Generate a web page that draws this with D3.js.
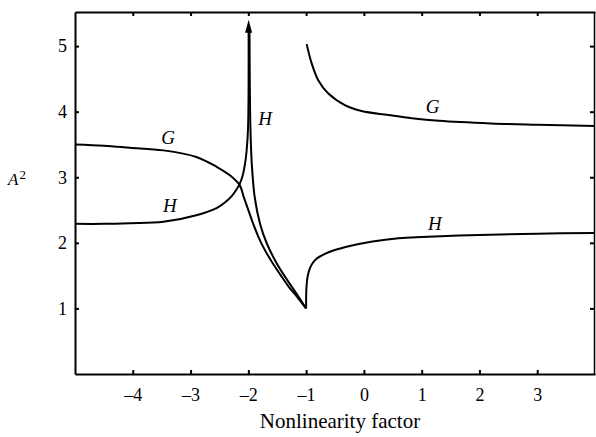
<!DOCTYPE html>
<html>
<head>
<meta charset="utf-8">
<script src="https://cdn.jsdelivr.net/npm/d3@7"></script>
<style>
  body { margin: 0; background: #fff; }
  svg text { font-family: "Liberation Serif", "DejaVu Serif", serif; fill: #000; }
</style>
</head>
<body>
<div id="vis"></div>
<script>
// G branch left of the singularity (runs down to the cusp at -1)
var gLeftX = [-5, -4.5, -4.05, -3.47, -2.9, -2.55, -2.32, -2.15, -2.08, -2.0, -1.92, -1.83, -1.72, -1.6, -1.45, -1.3, -1.15, -1.0];
var gLeftY = [3.5, 3.48, 3.45, 3.41, 3.31, 3.16, 3.03, 2.88, 2.7, 2.5, 2.3, 2.1, 1.9, 1.72, 1.52, 1.33, 1.17, 1.0];

// G branch right of -1
var gRightX = [-0.99, -0.905, -0.79, -0.62, -0.33, -0.04, 0.42, 0.83, 1.3, 2.2, 3, 4];
var gRightY = [5.03, 4.74, 4.48, 4.28, 4.1, 4.01, 3.95, 3.9, 3.86, 3.82, 3.8, 3.78];

// H rising into the peak at -2
var hLeftX = [-5, -4.5, -4.05, -3.47, -2.9, -2.55, -2.4, -2.28, -2.2, -2.15, -2.1, -2.06, -2.03, -2.005, -1.995];
var hLeftY = [2.29, 2.29, 2.3, 2.32, 2.42, 2.53, 2.62, 2.72, 2.82, 2.9, 3.02, 3.19, 3.4, 3.75, 5.3];

// H coming down from the peak to the cusp
var hMidX = [-1.98, -1.965, -1.94, -1.89, -1.8, -1.68, -1.51, -1.34, -1.17, -1.0];
var hMidY = [5.25, 3.8, 3.2, 2.7, 2.3, 1.99, 1.69, 1.45, 1.23, 1.0];

// H right of the cusp
var hRightX = [-1.0, -0.995, -0.975, -0.94, -0.88, -0.8, -0.6, -0.3, 0.15, 0.6, 1, 2, 3, 4];
var hRightY = [1.0, 1.3, 1.48, 1.6, 1.7, 1.77, 1.86, 1.94, 2.02, 2.07, 2.09, 2.12, 2.14, 2.15];

var xTicks = [-4, -3, -2, -1, 0, 1, 2, 3];
var yTicks = [1, 2, 3, 4, 5];

var labelText = ['G', 'H', 'H', 'G', 'H'];
var labelX = [-3.39, -1.71, -3.36, 1.19, 1.23];
var labelY = [3.51, 3.8, 2.47, 3.98, 2.2];

var width = 596;
var height = 437;
var margin = { top: 12, right: 1, bottom: 63, left: 75 };

var svg = d3.select('#vis')
  .append('svg')
  .attr('width', width)
  .attr('height', height);

var x = d3.scaleLinear().domain([-5, 4]).range([margin.left, width - margin.right]);
var y = d3.scaleLinear().domain([0, 5.52]).range([height - margin.bottom, margin.top]);

function fmt(d) {
  return d < 0 ? '\u2013' + Math.abs(d) : '' + d;
}

// axes on all four sides, ticks pointing inward
svg.append('g')
  .attr('transform', 'translate(0,' + y(0) + ')')
  .call(d3.axisBottom(x).tickValues(xTicks).tickSizeInner(-4).tickSizeOuter(0).tickPadding(14).tickFormat(fmt))
  .call(function (g) {
    g.select('.domain').attr('stroke-width', 2);
    g.selectAll('.tick line').attr('stroke-width', 2);
    g.selectAll('text').attr('font-size', 18);
  });

svg.append('g')
  .attr('transform', 'translate(0,' + y(5.52) + ')')
  .call(d3.axisTop(x).tickValues(xTicks).tickSizeInner(-4).tickSizeOuter(0).tickFormat(''))
  .call(function (g) {
    g.select('.domain').attr('stroke-width', 2);
    g.selectAll('.tick line').attr('stroke-width', 2);
  });

svg.append('g')
  .attr('transform', 'translate(' + x(-5) + ',0)')
  .call(d3.axisLeft(y).tickValues(yTicks).tickSizeInner(-4).tickSizeOuter(0).tickPadding(8).tickFormat(fmt))
  .call(function (g) {
    g.select('.domain').attr('stroke-width', 2);
    g.selectAll('.tick line').attr('stroke-width', 2);
    g.selectAll('text').attr('font-size', 18);
  });

svg.append('g')
  .attr('transform', 'translate(' + (x(4) - 1) + ',0)')
  .call(d3.axisRight(y).tickValues(yTicks).tickSizeInner(-4).tickSizeOuter(0).tickFormat(''))
  .call(function (g) {
    g.select('.domain').attr('stroke-width', 1.5);
    g.selectAll('.tick line').attr('stroke-width', 2);
  });

var line = d3.line()
  .x(function (d) { return x(d[0]); })
  .y(function (d) { return y(d[1]); })
  .curve(d3.curveCatmullRom.alpha(0.5));

function pairs(xs, ys) {
  return xs.map(function (v, i) { return [v, ys[i]]; });
}

var branches = [
  pairs(gLeftX, gLeftY),
  pairs(gRightX, gRightY),
  pairs(hLeftX, hLeftY),
  pairs(hMidX, hMidY),
  pairs(hRightX, hRightY)
];

svg.selectAll('.branch')
  .data(branches)
  .enter().append('path')
  .attr('class', 'branch')
  .attr('fill', 'none')
  .attr('stroke', '#000')
  .attr('stroke-width', 2)
  .attr('stroke-linejoin', 'round')
  .attr('d', line);

// arrowhead on top of the H peak
var tipX = x(-1.995), tipY = y(5.4);
svg.append('path')
  .attr('d', 'M' + tipX + ',' + tipY +
             'L' + (tipX - 3.5) + ',' + (tipY + 13) +
             'L' + (tipX + 3.5) + ',' + (tipY + 13) + 'Z')
  .attr('fill', '#000');

// curve labels
svg.selectAll('.curve-label')
  .data(labelText)
  .enter().append('text')
  .attr('class', 'curve-label')
  .attr('x', function (d, i) { return x(labelX[i]); })
  .attr('y', function (d, i) { return y(labelY[i]); })
  .attr('text-anchor', 'middle')
  .attr('font-size', 19)
  .attr('font-style', 'italic')
  .text(function (d) { return d; });

// axis titles
svg.append('text')
  .attr('x', 340)
  .attr('y', 428)
  .attr('text-anchor', 'middle')
  .attr('font-size', 21)
  .text('Nonlinearity factor');

var yTitle = svg.append('text')
  .attr('x', 8)
  .attr('y', 185)
  .attr('font-size', 17)
  .attr('font-style', 'italic');
yTitle.append('tspan').text('A');
yTitle.append('tspan')
  .attr('dy', -6)
  .attr('dx', 1)
  .attr('font-size', 13)
  .attr('font-style', 'normal')
  .text('2');
</script>
</body>
</html>
